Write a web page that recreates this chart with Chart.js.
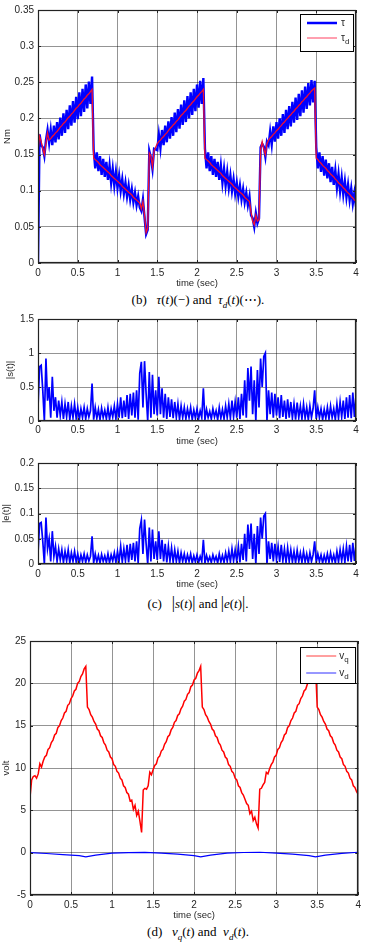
<!DOCTYPE html>
<html>
<head>
<meta charset="utf-8">
<script src="https://cdn.jsdelivr.net/npm/chart.js@4.4.0/dist/chart.umd.min.js"></script>
<style>
  body { margin: 0; background: #fff; width: 365px; height: 945px; position: relative; overflow: hidden; }
  canvas { position: absolute; left: 0; }
  .cap { position: absolute; left: 38px; width: 320px; text-align: center; white-space: nowrap;
         font-family: "Liberation Serif", "Times New Roman", serif; font-size: 13px; line-height: 16px; color: #000; }
  .cap sub { font-size: 9px; }
  .bar { font-size: 16px; }
</style>
</head>
<body>
<canvas id="c1" width="365" height="292" style="top:0px"></canvas>
<div class="cap" style="top:292px">(b)&nbsp;&nbsp; <i>τ</i>(<i>t</i>)(−) and &nbsp;<i>τ<sub>d</sub></i>(<i>t</i>)(⋯).</div>
<canvas id="c2" width="365" height="139" style="top:309px"></canvas>
<canvas id="c3" width="365" height="138" style="top:453px"></canvas>
<div class="cap" style="top:595px">(c)&nbsp;&nbsp; <span class="bar">|</span><i>s</i>(<i>t</i>)<span class="bar">|</span> and <span class="bar">|</span><i>e</i>(<i>t</i>)<span class="bar">|</span>.</div>
<canvas id="c4" width="365" height="292" style="top:631px"></canvas>
<div class="cap" style="top:924px">(d)&nbsp;&nbsp; <i>v<sub>q</sub></i>(<i>t</i>) and &nbsp;<i>v<sub>d</sub></i>(<i>t</i>).</div>

<script>
// sample grid (sec), 0.02 s steps
var time = Array.from({length: 201}, function (_, i) { return +(i * 0.02).toFixed(2); });

var tauD = [0.155, 0.175, 0.168, 0.158, 0.150, 0.165, 0.180, 0.170,
  0.172, 0.175, 0.177, 0.180, 0.182, 0.185, 0.188, 0.190, 0.193, 0.195, 0.198, 0.201, 0.203, 0.206, 0.208, 0.211,
  0.214, 0.216, 0.219, 0.221, 0.224, 0.227, 0.229, 0.232, 0.234, 0.237, 0.240,
  0.145, 0.143, 0.141, 0.139, 0.136, 0.134, 0.132, 0.130, 0.128, 0.126, 0.124, 0.121, 0.119, 0.117, 0.115,
  0.113, 0.111, 0.109, 0.106, 0.104, 0.102, 0.100, 0.098, 0.096, 0.094, 0.091, 0.089, 0.087, 0.085, 0.083,
  0.075, 0.085, 0.066, 0.042, 0.048, 0.152, 0.148, 0.133, 0.155, 0.160,
  0.165, 0.168, 0.170, 0.173, 0.175, 0.178, 0.180, 0.183, 0.186, 0.188, 0.191, 0.193, 0.196, 0.198, 0.201,
  0.204, 0.206, 0.209, 0.211, 0.214, 0.217, 0.219, 0.222, 0.224, 0.227, 0.230, 0.232, 0.235, 0.237, 0.240,
  0.145, 0.143, 0.141, 0.139, 0.136, 0.134, 0.132, 0.130, 0.128, 0.126, 0.124, 0.121, 0.119, 0.117, 0.115,
  0.113, 0.111, 0.109, 0.106, 0.104, 0.102, 0.100, 0.098, 0.096, 0.094, 0.091, 0.089, 0.087, 0.085,
  0.070, 0.058, 0.053, 0.066, 0.058, 0.060, 0.157, 0.168, 0.158, 0.150, 0.165,
  0.170, 0.173, 0.175, 0.178, 0.180, 0.183, 0.185, 0.188, 0.190, 0.193, 0.195, 0.198, 0.200, 0.203, 0.205,
  0.208, 0.210, 0.213, 0.215, 0.218, 0.220, 0.223, 0.225, 0.228, 0.230, 0.233, 0.235, 0.238, 0.240, 0.242,
  0.145, 0.143, 0.140, 0.138, 0.135, 0.133, 0.131, 0.128, 0.126, 0.123, 0.121, 0.119, 0.116, 0.114, 0.111,
  0.109, 0.107, 0.104, 0.102, 0.099, 0.097, 0.095, 0.092, 0.090, 0.087, 0.085];

var tau = [0.000, 0.178, 0.163, 0.160, 0.148, 0.170, 0.184, 0.166,
  0.184, 0.163, 0.190, 0.167, 0.195, 0.171, 0.201, 0.176, 0.207, 0.180, 0.212, 0.185, 0.218, 0.190, 0.224, 0.194,
  0.230, 0.199, 0.236, 0.203, 0.241, 0.209, 0.247, 0.214, 0.251, 0.220, 0.258,
  0.157, 0.131, 0.153, 0.127, 0.148, 0.122, 0.144, 0.119, 0.140, 0.115, 0.135, 0.111, 0.130, 0.107, 0.126,
  0.104, 0.121, 0.100, 0.116, 0.096, 0.111, 0.092, 0.107, 0.088, 0.102, 0.084, 0.097, 0.080, 0.092, 0.077,
  0.072, 0.088, 0.063, 0.040, 0.046, 0.155, 0.146, 0.130, 0.158, 0.157,
  0.156, 0.178, 0.159, 0.184, 0.163, 0.190, 0.167, 0.196, 0.172, 0.202, 0.176, 0.208, 0.181, 0.213, 0.186,
  0.219, 0.191, 0.225, 0.195, 0.231, 0.200, 0.236, 0.205, 0.241, 0.210, 0.247, 0.215, 0.252, 0.220, 0.256,
  0.158, 0.131, 0.153, 0.127, 0.148, 0.122, 0.144, 0.119, 0.140, 0.115, 0.135, 0.111, 0.130, 0.107, 0.126,
  0.104, 0.121, 0.100, 0.116, 0.096, 0.111, 0.092, 0.107, 0.088, 0.102, 0.084, 0.097, 0.080, 0.092,
  0.066, 0.062, 0.050, 0.069, 0.055, 0.062, 0.160, 0.165, 0.161, 0.147, 0.168,
  0.163, 0.182, 0.164, 0.189, 0.168, 0.195, 0.172, 0.200, 0.176, 0.206, 0.180, 0.212, 0.185, 0.217, 0.189,
  0.223, 0.194, 0.229, 0.198, 0.234, 0.203, 0.239, 0.208, 0.244, 0.213, 0.249, 0.218, 0.253, 0.222, 0.252,
  0.160, 0.131, 0.153, 0.126, 0.148, 0.121, 0.143, 0.117, 0.138, 0.112, 0.133, 0.108, 0.128, 0.104, 0.123,
  0.099, 0.118, 0.095, 0.113, 0.091, 0.108, 0.087, 0.103, 0.082, 0.097, 0.078];

var sAbs = [0.20, 0.80, 0.82, 0.45, 0.00, 0.92, 0.30, 0.50, 0.05, 0.65,
  0.15, 0.35, 0.05, 0.30, 0.08, 0.28, 0.03, 0.25, 0.06, 0.28,
  0.02, 0.22, 0.05, 0.25, 0.04, 0.20, 0.02, 0.18, 0.05, 0.20,
  0.03, 0.18, 0.06, 0.15, 0.55, 0.02, 0.20, 0.04, 0.17, 0.02,
  0.19, 0.05, 0.16, 0.03, 0.20, 0.02, 0.18, 0.06, 0.22, 0.03,
  0.25, 0.05, 0.35, 0.04, 0.30, 0.06, 0.38, 0.03, 0.40, 0.08,
  0.42, 0.05, 0.45, 0.02, 0.70, 0.87, 0.20, 0.88, 0.40, 0.00,
  0.72, 0.05, 0.68, 0.10, 0.45, 0.08, 0.65, 0.10, 0.48, 0.05,
  0.40, 0.03, 0.35, 0.06, 0.32, 0.04, 0.28, 0.05, 0.25, 0.02,
  0.22, 0.05, 0.20, 0.03, 0.18, 0.05, 0.20, 0.02, 0.16, 0.04,
  0.18, 0.03, 0.15, 0.05, 0.48, 0.02, 0.17, 0.05, 0.14, 0.03,
  0.18, 0.06, 0.15, 0.02, 0.20, 0.04, 0.17, 0.03, 0.22, 0.05,
  0.25, 0.04, 0.30, 0.06, 0.28, 0.05, 0.35, 0.03, 0.40, 0.08,
  0.60, 0.05, 0.78, 0.30, 0.80, 0.10, 0.60, 0.00, 0.75, 0.20,
  0.92, 0.50, 0.95, 1.00, 0.00, 0.45, 0.10, 0.42, 0.05, 0.40,
  0.08, 0.35, 0.04, 0.38, 0.06, 0.30, 0.03, 0.32, 0.05, 0.28,
  0.04, 0.25, 0.02, 0.27, 0.05, 0.22, 0.03, 0.25, 0.04, 0.20,
  0.02, 0.22, 0.05, 0.18, 0.45, 0.03, 0.20, 0.05, 0.18, 0.02,
  0.17, 0.04, 0.20, 0.03, 0.22, 0.05, 0.18, 0.02, 0.25, 0.04,
  0.28, 0.06, 0.30, 0.03, 0.35, 0.05, 0.38, 0.04, 0.42, 0.06, 0.38];

var eAbs = [0.020, 0.080, 0.082, 0.045, 0.000, 0.092, 0.030, 0.050, 0.005, 0.065,
  0.015, 0.035, 0.005, 0.030, 0.008, 0.028, 0.003, 0.025, 0.006, 0.028,
  0.002, 0.022, 0.005, 0.025, 0.004, 0.020, 0.002, 0.018, 0.005, 0.020,
  0.003, 0.018, 0.006, 0.015, 0.055, 0.002, 0.020, 0.004, 0.017, 0.002,
  0.019, 0.005, 0.016, 0.003, 0.020, 0.002, 0.018, 0.006, 0.022, 0.003,
  0.025, 0.005, 0.035, 0.004, 0.030, 0.006, 0.038, 0.003, 0.040, 0.008,
  0.042, 0.005, 0.045, 0.002, 0.070, 0.087, 0.020, 0.088, 0.040, 0.000,
  0.072, 0.005, 0.068, 0.010, 0.045, 0.008, 0.065, 0.010, 0.048, 0.005,
  0.040, 0.003, 0.035, 0.006, 0.032, 0.004, 0.028, 0.005, 0.025, 0.002,
  0.022, 0.005, 0.020, 0.003, 0.018, 0.005, 0.020, 0.002, 0.016, 0.004,
  0.018, 0.003, 0.015, 0.005, 0.048, 0.002, 0.017, 0.005, 0.014, 0.003,
  0.018, 0.006, 0.015, 0.002, 0.020, 0.004, 0.017, 0.003, 0.022, 0.005,
  0.025, 0.004, 0.030, 0.006, 0.028, 0.005, 0.035, 0.003, 0.040, 0.008,
  0.060, 0.005, 0.078, 0.030, 0.080, 0.010, 0.060, 0.000, 0.075, 0.020,
  0.092, 0.050, 0.095, 0.100, 0.000, 0.045, 0.010, 0.042, 0.005, 0.040,
  0.008, 0.035, 0.004, 0.038, 0.006, 0.030, 0.003, 0.032, 0.005, 0.028,
  0.004, 0.025, 0.002, 0.027, 0.005, 0.022, 0.003, 0.025, 0.004, 0.020,
  0.002, 0.022, 0.005, 0.018, 0.045, 0.003, 0.020, 0.005, 0.018, 0.002,
  0.017, 0.004, 0.020, 0.003, 0.022, 0.005, 0.018, 0.002, 0.025, 0.004,
  0.028, 0.006, 0.030, 0.003, 0.035, 0.005, 0.038, 0.004, 0.042, 0.006, 0.038];

var vq = [6.5, 8.6, 9.0, 9.1, 8.8, 9.3, 10.5, 10.1,
  10.8, 11.3, 11.5, 12.2, 12.4, 13.0, 13.3, 13.9, 14.1, 14.8, 15.0, 15.6, 15.9, 16.5, 16.7, 17.4,
  17.6, 18.2, 18.5, 19.1, 19.3, 20.0, 20.2, 20.8, 21.1, 21.7, 22.0,
  17.2, 16.9, 16.3, 16.0, 15.5, 15.2, 14.6, 14.4, 13.8, 13.6, 13.0, 12.7, 12.1, 11.9, 11.3, 11.1, 10.4,
  10.2, 9.6, 9.4, 8.8, 8.6, 7.9, 7.7, 7.1, 6.9, 6.1, 6.2, 5.1, 5.6, 4.4, 4.9, 3.7, 2.4,
  7.4, 7.6, 7.5, 7.9, 9.5, 9.2,
  9.8, 10.3, 10.5, 11.2, 11.4, 12.0, 12.2, 12.8, 13.1, 13.7, 13.9, 14.5, 14.8, 15.4, 15.6,
  16.2, 16.4, 17.0, 17.3, 17.9, 18.1, 18.7, 18.9, 19.6, 19.8, 20.4, 20.6, 21.2, 21.5, 22.0,
  17.2, 16.9, 16.3, 16.0, 15.5, 15.2, 14.6, 14.4, 13.8, 13.6, 13.0, 12.7, 12.1, 11.9, 11.3,
  11.1, 10.4, 10.2, 9.6, 9.4, 8.8, 8.6, 7.9, 7.7, 7.1, 6.8, 6.3, 5.8, 5.6,
  4.6, 4.9, 3.8, 4.2, 3.4, 2.9, 7.5, 7.6, 8.0, 8.3, 9.5, 9.3,
  9.9, 10.4, 10.7, 11.3, 11.5, 12.2, 12.4, 13.0, 13.3, 13.9, 14.1, 14.8, 15.0, 15.6, 15.9,
  16.5, 16.7, 17.4, 17.6, 18.2, 18.5, 19.1, 19.3, 19.9, 20.2, 20.8, 21.1, 21.6, 22.0,
  17.2, 16.9, 16.3, 16.0, 15.5, 15.2, 14.6, 14.4, 13.8, 13.6, 13.0, 12.7, 12.1, 11.9, 11.3,
  11.1, 10.4, 10.2, 9.6, 9.4, 8.8, 8.6, 7.9, 7.7, 7.2, 6.9];

var vdTime = [0, 0.2, 0.4, 0.6, 0.68, 0.8, 1.0, 1.2, 1.4, 1.6, 1.8, 2.0, 2.08, 2.2, 2.4, 2.6, 2.8, 3.0, 3.2, 3.4, 3.48, 3.6, 3.8, 4.0];
var vd = [0.0, -0.1, -0.22, -0.35, -0.5, -0.3, -0.05, 0.0, 0.03, -0.05, -0.18, -0.35, -0.5, -0.3, -0.05, 0.02, 0.05, -0.05, -0.17, -0.35, -0.5, -0.3, -0.08, 0.05];

var fontFam = '"Liberation Sans", Arial, sans-serif';
var textCol = '#262626';

function pts(xs, ys) {
  return ys.map(function (v, i) { return { x: xs[i], y: v }; });
}
function fmt(v) { return String(+(+v).toFixed(3)); }

// box + inward ticks on all 4 sides, like matlab axes
var frame = {
  id: 'frame',
  afterDraw: function (chart) {
    var ctx = chart.ctx, a = chart.chartArea, sx = chart.scales.x, sy = chart.scales.y;
    ctx.save();
    ctx.strokeStyle = '#222';
    ctx.lineWidth = 1;
    ctx.beginPath();
    sx.ticks.forEach(function (tk) {
      var p = Math.round(sx.getPixelForValue(tk.value)) + 0.5;
      ctx.moveTo(p, a.top); ctx.lineTo(p, a.top + 3);
      ctx.moveTo(p, a.bottom); ctx.lineTo(p, a.bottom - 3);
    });
    sy.ticks.forEach(function (tk) {
      var p = Math.round(sy.getPixelForValue(tk.value)) + 0.5;
      ctx.moveTo(a.left, p); ctx.lineTo(a.left + 3, p);
      ctx.moveTo(a.right, p); ctx.lineTo(a.right - 3, p);
    });
    ctx.stroke();
    ctx.lineWidth = 1.2;
    ctx.strokeRect(Math.round(a.left) + 0.5, Math.round(a.top) + 0.5, Math.round(a.width) - 1, Math.round(a.height) - 1);
    ctx.restore();
  }
};

// boxed legend inside the plot, top right
var boxLegend = {
  id: 'boxLegend',
  afterDraw: function (chart, args, o) {
    if (!o.items) return;
    var ctx = chart.ctx, a = chart.chartArea;
    var x0 = a.right - o.right - o.width, y0 = a.top + o.top;
    ctx.save();
    ctx.fillStyle = '#fff';
    ctx.fillRect(x0, y0, o.width, o.height);
    ctx.strokeStyle = '#000';
    ctx.lineWidth = 1;
    ctx.strokeRect(Math.round(x0) + 0.5, Math.round(y0) + 0.5, o.width, o.height);
    o.items.forEach(function (it, k) {
      var yy = y0 + o.rowTop + k * o.rowGap;
      ctx.strokeStyle = it.color;
      ctx.lineWidth = it.width;
      ctx.beginPath();
      ctx.moveTo(x0 + o.lineStart, yy);
      ctx.lineTo(x0 + o.lineEnd, yy);
      ctx.stroke();
      ctx.fillStyle = textCol;
      ctx.textBaseline = 'middle';
      ctx.font = '10px ' + fontFam;
      ctx.fillText(it.main, x0 + o.textX, yy);
      if (it.sub) {
        var w = ctx.measureText(it.main).width;
        ctx.font = '8px ' + fontFam;
        ctx.fillText(it.sub, x0 + o.textX + w, yy + 4);
      }
    });
    ctx.restore();
  }
};

function build(id, datasets, c) {
  return new Chart(document.getElementById(id), {
    type: 'line',
    data: { datasets: datasets },
    options: {
      responsive: false,
      animation: false,
      events: [],
      layout: { padding: { top: 10, right: c.right, left: 0, bottom: 0 } },
      elements: { point: { radius: 0 }, line: { tension: 0 } },
      plugins: {
        legend: { display: false },
        tooltip: { enabled: false },
        boxLegend: c.legend || {}
      },
      scales: {
        x: {
          type: 'linear', min: 0, max: 4,
          afterFit: function (s) { s.height = c.xh; },
          grid: { color: 'rgba(0,0,0,0.42)', drawTicks: false },
          border: { display: false },
          ticks: { stepSize: 0.5, autoSkip: false, maxRotation: 0, padding: c.xpad, color: textCol,
                   font: { size: 10, family: fontFam }, callback: fmt },
          title: { display: true, text: 'time (sec)', color: textCol, font: { size: 9.5, family: fontFam },
                   padding: { top: 0, bottom: c.tpad } }
        },
        y: {
          type: 'linear', min: c.ymin, max: c.ymax,
          afterFit: function (s) { s.width = c.yw; },
          grid: { color: 'rgba(0,0,0,0.42)', drawTicks: false },
          border: { display: false },
          ticks: { stepSize: c.ystep, padding: 4, color: textCol, font: { size: 10, family: fontFam }, callback: fmt },
          title: { display: true, text: c.ytitle, color: textCol, font: { size: 9.5, family: fontFam },
                   padding: { top: c.ytpad, bottom: 0 } }
        }
      }
    },
    plugins: [frame, boxLegend]
  });
}

build('c1', [
  { data: pts(time, tau), borderColor: '#0000ff', borderWidth: 2.4, order: 2 },
  { data: pts(time, tauD), borderColor: '#f01030', borderWidth: 1.3, order: 1 }
], {
  right: 9, xh: 29, xpad: 4, tpad: 3, yw: 38, ymin: 0, ymax: 0.35, ystep: 0.05, ytitle: 'Nm', ytpad: 2,
  legend: { width: 53, height: 37, right: 3, top: 4, rowTop: 9, rowGap: 15, lineStart: 7, lineEnd: 37, textX: 41,
    items: [{ color: '#0000ff', width: 2.5, main: 'τ' }, { color: '#ff4060', width: 1, main: 'τ', sub: 'd' }] }
});

build('c2', [
  { data: pts(time, sAbs), borderColor: '#0000ff', borderWidth: 1.7 }
], { right: 9, xh: 27, xpad: 3, tpad: 1, yw: 38, ymin: 0, ymax: 1.5, ystep: 0.5, ytitle: '|s(t)|', ytpad: 4.5 });

build('c3', [
  { data: pts(time, eAbs), borderColor: '#0000ff', borderWidth: 1.7 }
], { right: 9, xh: 27, xpad: 4, tpad: 1, yw: 38, ymin: 0, ymax: 0.2, ystep: 0.05, ytitle: '|e(t)|', ytpad: 0.5 });

build('c4', [
  { data: pts(time, vq), borderColor: '#ff0000', borderWidth: 1.5 },
  { data: pts(vdTime, vd), borderColor: '#0000ff', borderWidth: 1.2 }
], {
  right: 3, xh: 28, xpad: 4, tpad: 1.5, yw: 30, ymin: -5, ymax: 25, ystep: 5, ytitle: 'volt', ytpad: 0.5,
  legend: { width: 55, height: 36, right: 3, top: 6, rowTop: 9, rowGap: 17, lineStart: 6, lineEnd: 36, textX: 39,
    items: [{ color: '#ff4040', width: 1, main: 'v', sub: 'q' }, { color: '#3030ff', width: 1, main: 'v', sub: 'd' }] }
});
</script>
</body>
</html>
